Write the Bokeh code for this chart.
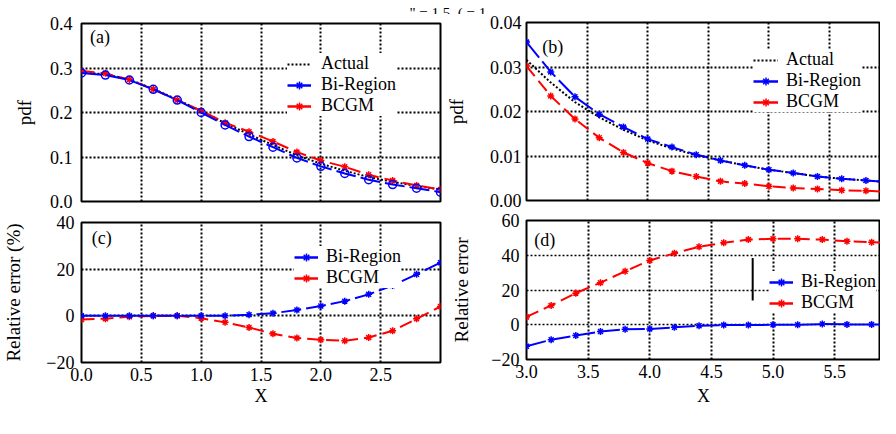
from bokeh.plotting import figure
from bokeh.layouts import column, row
from bokeh.models import (FixedTicker, NumeralTickFormatter, Legend, LegendItem,
                          Label, Range1d, Arrow)
from bokeh.embed import file_html
from bokeh.resources import INLINE

FONT = "Liberation Serif"
BLUE = "#0000FF"
RED = "#FF0000"
NAN = float("nan")

# ---------------- data ----------------
x_left = [0.0, 0.2, 0.4, 0.6, 0.8, 1.0, 1.2, 1.4, 1.6, 1.8, 2.0, 2.2, 2.4, 2.6, 2.8, 3.0]
pdf_actual_a = [0.290, 0.286, 0.274, 0.253, 0.229, 0.203, 0.176, 0.151, 0.127, 0.104,
                0.085, 0.069, 0.055, 0.044, 0.035, 0.027]
pdf_bi_a = [0.289, 0.284, 0.273, 0.252, 0.228, 0.200, 0.172, 0.146, 0.122, 0.098,
            0.079, 0.063, 0.049, 0.038, 0.030, 0.021]
pdf_bcgm_a = [0.293, 0.288, 0.274, 0.252, 0.228, 0.204, 0.177, 0.157, 0.135, 0.111,
              0.092, 0.078, 0.060, 0.047, 0.036, 0.027]
err_bi_c = [0.0, 0.0, 0.0, 0.0, 0.0, 0.0, 0.0, 0.5, 1.1, 2.5, 4.2, 6.3, 9.2, 13.0, 17.8, 22.8]
err_bcgm_c = [-1.6, -1.2, -0.4, 0.0, 0.0, -1.0, -2.8, -5.0, -7.7, -9.5, -10.3, -10.7,
              -9.3, -6.4, -1.3, 4.0]

x_right = [3.0, 3.2, 3.4, 3.6, 3.8, 4.0, 4.2, 4.4, 4.6, 4.8, 5.0, 5.2, 5.4, 5.6, 5.8, 6.0]
pdf_actual_b = [0.0316, 0.0265, 0.0221, 0.0187, 0.0159, 0.0135, 0.0117, 0.0102, 0.0090,
                0.0079, 0.0069, 0.0062, 0.0054, 0.0049, 0.0045, 0.0041]
pdf_bi_b = [0.0356, 0.0289, 0.0233, 0.0194, 0.0165, 0.0138, 0.0120, 0.0103, 0.0090,
            0.0079, 0.0069, 0.0062, 0.0054, 0.0049, 0.0045, 0.0041]
pdf_bcgm_b = [0.0302, 0.0235, 0.0183, 0.0141, 0.0108, 0.0084, 0.0066, 0.0054, 0.0043,
              0.0038, 0.0032, 0.0028, 0.0026, 0.0023, 0.0022, 0.0019]
err_bi_d = [-12.4, -8.6, -6.2, -3.9, -2.6, -2.4, -1.5, -0.6, -0.2, -0.2, 0.0, 0.0,
            0.4, 0.2, 0.2, 0.2]
err_bcgm_d = [4.5, 11.1, 18.2, 24.2, 30.8, 37.0, 41.1, 44.9, 47.2, 49.0, 49.5, 49.5,
              49.0, 48.0, 47.5, 47.0]

xticks_left = [0.0, 0.5, 1.0, 1.5, 2.0, 2.5]
xticks_right = [3.0, 3.5, 4.0, 4.5, 5.0, 5.5]
yticks_a = [0.0, 0.1, 0.2, 0.3, 0.4]
yticks_b = [0.00, 0.01, 0.02, 0.03, 0.04]
yticks_c = [-20, 0, 20, 40]
yticks_d = [-20, 0, 20, 40, 60]

title_text = '" = 1.5\u00a0\u00a0( = 1'


def make_fig(w, h, xr, yr, ml, mr, mt, mb, with_x=True):
    p = figure(width=w, height=h, x_range=Range1d(*xr), y_range=Range1d(*yr),
               toolbar_location=None, output_backend="svg", title=None,
               x_axis_location="below" if with_x else None,
               min_border_left=ml, min_border_right=mr,
               min_border_top=mt, min_border_bottom=mb)
    p.outline_line_color = "black"
    p.outline_line_width = 2
    p.background_fill_color = "white"
    p.border_fill_color = "white"
    p.axis.axis_line_color = None
    p.axis.major_tick_line_color = None
    p.axis.minor_tick_line_color = None
    p.axis.major_tick_out = 0
    p.axis.major_tick_in = 0
    p.axis.major_label_text_font = FONT
    p.axis.major_label_text_font_size = "18px"
    p.axis.major_label_text_color = "black"
    p.axis.axis_label_text_font = FONT
    p.axis.axis_label_text_font_size = "19px"
    p.axis.axis_label_text_font_style = "normal"
    p.axis.axis_label_text_color = "black"
    p.grid.grid_line_color = "black"
    p.grid.grid_line_dash = "2 2"
    p.grid.grid_line_width = 2
    return p


def add_series(p, x, bi, bcgm, actual=None, bi_marker="asterisk"):
    if actual is not None:
        p.line(x, actual, line_color="black", line_width=2, line_dash="2 2")
    p.line(x, bcgm, line_color=RED, line_width=2, line_dash="13 6")
    p.scatter(x, bcgm, marker="asterisk", size=7, line_color=RED, line_width=1.5)
    p.line(x, bi, line_color=BLUE, line_width=2, line_dash="20 5")
    if bi_marker == "circle":
        p.scatter(x, bi, marker="circle", size=8, line_color=BLUE, fill_color=None, line_width=1.5)
    else:
        p.scatter(x, bi, marker="asterisk", size=7, line_color=BLUE, line_width=1.5)


def add_legend(p, with_actual, loc, standoff, gw):
    # legend-only renderers (solid sample lines); they hold a single NaN and draw nothing
    items = []
    if with_actual:
        la = p.line([NAN], [NAN], line_color="black", line_width=2, line_dash="2 2")
        items.append(LegendItem(label="Actual", renderers=[la]))
    lb = p.line([NAN], [NAN], line_color=BLUE, line_width=2.5)
    mb = p.scatter([NAN], [NAN], marker="asterisk", line_color=BLUE, line_width=1.5)
    items.append(LegendItem(label="Bi-Region", renderers=[lb, mb]))
    lr = p.line([NAN], [NAN], line_color=RED, line_width=2.5)
    mr = p.scatter([NAN], [NAN], marker="asterisk", line_color=RED, line_width=1.5)
    items.append(LegendItem(label="BCGM", renderers=[lr, mr]))
    leg = Legend(items=items, location=loc, orientation="vertical", padding=1, spacing=0,
                 margin=0, glyph_width=gw, glyph_height=20, label_height=20,
                 label_standoff=standoff, label_text_font=FONT, label_text_font_size="18px",
                 label_text_color="black", background_fill_color="white",
                 background_fill_alpha=1.0, border_line_color=None)
    p.add_layout(leg)


def panel_label(p, x, y, text):
    p.add_layout(Label(x=x, y=y, text=text, text_font=FONT, text_font_size="18px",
                       text_baseline="middle", text_color="black"))


# ---------------- title strip ----------------
p0 = figure(width=880, height=14, x_range=Range1d(0, 880), y_range=Range1d(0, 14),
            toolbar_location=None, output_backend="svg", min_border=0, title=None,
            x_axis_location=None, y_axis_location=None)
p0.grid.visible = False
p0.outline_line_color = None
p0.add_layout(Label(x=409, y=2, text=title_text, text_font=FONT, text_font_size="15px",
                    text_color="black", text_baseline="alphabetic"))

# ---------------- (a) ----------------
pa = make_fig(442, 197, (0, 3), (0, 0.4), 66, 2, 9, 10, with_x=False)
pa.xgrid.ticker = FixedTicker(ticks=xticks_left)
pa.yaxis.ticker = FixedTicker(ticks=yticks_a)
pa.ygrid.ticker = FixedTicker(ticks=yticks_a)
pa.yaxis.formatter = NumeralTickFormatter(format="0.0")
pa.yaxis.axis_label = "pdf"
pa.yaxis.major_label_standoff = 9
pa.yaxis.axis_label_standoff = 12
add_series(pa, x_left, pdf_bi_a, pdf_bcgm_a, pdf_actual_a, bi_marker="circle")
add_legend(pa, True, (206, 85), 10, 24)
panel_label(pa, 0.072, 0.369, "(a)")

# ---------------- (c) ----------------
pc = make_fig(442, 199, (0, 3), (-20, 40), 70, 2, 11, 48)
pc.xaxis.ticker = FixedTicker(ticks=xticks_left)
pc.xgrid.ticker = FixedTicker(ticks=xticks_left)
pc.xaxis.formatter = NumeralTickFormatter(format="0.0")
pc.yaxis.ticker = FixedTicker(ticks=yticks_c)
pc.ygrid.ticker = FixedTicker(ticks=yticks_c)
pc.xaxis.axis_label = "X"
pc.yaxis.axis_label = "Relative error (%)"
pc.xaxis.axis_label_text_font_size = "18px"
pc.yaxis.major_label_standoff = 7
pc.yaxis.axis_label_standoff = 19
pc.xaxis.major_label_standoff = 5
pc.xaxis.axis_label_standoff = 2
add_series(pc, x_left, err_bi_c, err_bcgm_c)
add_legend(pc, False, (213, 74), 8, 24)
panel_label(pc, 0.085, 33.4, "(c)")

# ---------------- (b) ----------------
pb = make_fig(438, 196, (3.0, 5.92), (0, 0.04), 77, 0, 8, 10, with_x=False)
pb.xgrid.ticker = FixedTicker(ticks=xticks_right)
pb.yaxis.ticker = FixedTicker(ticks=yticks_b)
pb.ygrid.ticker = FixedTicker(ticks=yticks_b)
pb.yaxis.formatter = NumeralTickFormatter(format="0.00")
pb.yaxis.axis_label = "pdf"
pb.yaxis.major_label_standoff = 5
pb.yaxis.axis_label_standoff = 20
add_series(pb, x_right, pdf_bi_b, pdf_bcgm_b, pdf_actual_b)
add_legend(pb, True, (227, 88), 8, 25)
panel_label(pb, 3.129, 0.0344, "(b)")

# ---------------- (d) ----------------
pd_ = make_fig(438, 200, (3.0, 5.872), (-20, 60), 75, 0, 10, 51)
pd_.xaxis.ticker = FixedTicker(ticks=xticks_right)
pd_.xgrid.ticker = FixedTicker(ticks=xticks_right)
pd_.xaxis.formatter = NumeralTickFormatter(format="0.0")
pd_.yaxis.ticker = FixedTicker(ticks=yticks_d)
pd_.ygrid.ticker = FixedTicker(ticks=yticks_d)
pd_.ygrid.grid_line_width = 1.5
pd_.xaxis.axis_label = "X"
pd_.yaxis.axis_label = "Relative error"
pd_.xaxis.axis_label_text_font_size = "18px"
pd_.yaxis.major_label_standoff = 7
pd_.yaxis.axis_label_standoff = 16
pd_.xaxis.major_label_standoff = 5
pd_.xaxis.axis_label_standoff = 5
add_series(pd_, x_right, err_bi_d, err_bcgm_d)
add_legend(pd_, False, (243, 46), 8, 24)
pd_.add_layout(Arrow(x_start=4.835, y_start=38.4, x_end=4.835, y_end=14.0, end=None,
                     line_color="black", line_width=2))
panel_label(pd_, 3.063, 48.65, "(d)")

layout = column(p0, row(column(pa, pc), column(pb, pd_)))

open("out.html", "w").write(file_html(layout, INLINE))
